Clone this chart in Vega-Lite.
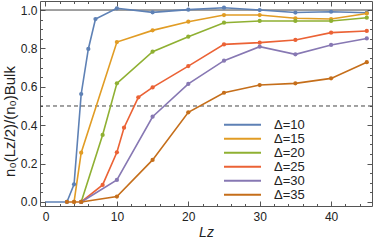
{
  "$schema": "https://vega.github.io/schema/vega-lite/v6.json",
  "width": 332,
  "height": 205,
  "autosize": "none",
  "padding": {"left": 40, "top": 1, "right": 2, "bottom": 35},
  "background": "white",
  "config": {
    "view": {"stroke": "#555", "strokeWidth": 1},
    "font": "Liberation Sans",
    "axis": {"domain": false, "grid": false, "labelFont": "Liberation Sans", "labelFontSize": 12, "labelColor": "#222", "titleFont": "Liberation Sans", "titleFontWeight": "normal", "titleFontSize": 13, "titleColor": "#222", "tickColor": "#555"}
  },
  "datasets": {
    "curves": [
      {"Lz": 0, "v": 0, "d": "Δ=10"},
      {"Lz": 3, "v": 0, "d": "Δ=10"},
      {"Lz": 4, "v": 0.092, "d": "Δ=10"},
      {"Lz": 5, "v": 0.5625, "d": "Δ=10"},
      {"Lz": 6, "v": 0.797, "d": "Δ=10"},
      {"Lz": 7, "v": 0.953, "d": "Δ=10"},
      {"Lz": 10, "v": 1.009, "d": "Δ=10"},
      {"Lz": 15, "v": 0.988, "d": "Δ=10"},
      {"Lz": 20, "v": 1.002, "d": "Δ=10"},
      {"Lz": 25, "v": 1.012, "d": "Δ=10"},
      {"Lz": 30, "v": 1.0, "d": "Δ=10"},
      {"Lz": 35, "v": 0.987, "d": "Δ=10"},
      {"Lz": 40, "v": 0.991, "d": "Δ=10"},
      {"Lz": 45, "v": 0.986, "d": "Δ=10"},
      {"Lz": 4, "v": 0, "d": "Δ=15"},
      {"Lz": 5, "v": 0.257, "d": "Δ=15"},
      {"Lz": 10, "v": 0.833, "d": "Δ=15"},
      {"Lz": 15, "v": 0.894, "d": "Δ=15"},
      {"Lz": 20, "v": 0.939, "d": "Δ=15"},
      {"Lz": 25, "v": 0.974, "d": "Δ=15"},
      {"Lz": 30, "v": 0.974, "d": "Δ=15"},
      {"Lz": 35, "v": 0.957, "d": "Δ=15"},
      {"Lz": 40, "v": 0.953, "d": "Δ=15"},
      {"Lz": 45, "v": 0.982, "d": "Δ=15"},
      {"Lz": 5, "v": 0, "d": "Δ=20"},
      {"Lz": 8, "v": 0.349, "d": "Δ=20"},
      {"Lz": 10, "v": 0.618, "d": "Δ=20"},
      {"Lz": 15, "v": 0.783, "d": "Δ=20"},
      {"Lz": 20, "v": 0.861, "d": "Δ=20"},
      {"Lz": 25, "v": 0.934, "d": "Δ=20"},
      {"Lz": 30, "v": 0.943, "d": "Δ=20"},
      {"Lz": 35, "v": 0.943, "d": "Δ=20"},
      {"Lz": 40, "v": 0.943, "d": "Δ=20"},
      {"Lz": 45, "v": 0.96, "d": "Δ=20"},
      {"Lz": 5, "v": 0, "d": "Δ=25"},
      {"Lz": 8, "v": 0.089, "d": "Δ=25"},
      {"Lz": 10, "v": 0.259, "d": "Δ=25"},
      {"Lz": 11, "v": 0.387, "d": "Δ=25"},
      {"Lz": 13, "v": 0.545, "d": "Δ=25"},
      {"Lz": 15, "v": 0.597, "d": "Δ=25"},
      {"Lz": 20, "v": 0.708, "d": "Δ=25"},
      {"Lz": 25, "v": 0.821, "d": "Δ=25"},
      {"Lz": 30, "v": 0.83, "d": "Δ=25"},
      {"Lz": 35, "v": 0.844, "d": "Δ=25"},
      {"Lz": 40, "v": 0.882, "d": "Δ=25"},
      {"Lz": 45, "v": 0.891, "d": "Δ=25"},
      {"Lz": 5, "v": 0, "d": "Δ=30"},
      {"Lz": 10, "v": 0.115, "d": "Δ=30"},
      {"Lz": 15, "v": 0.444, "d": "Δ=30"},
      {"Lz": 20, "v": 0.615, "d": "Δ=30"},
      {"Lz": 25, "v": 0.736, "d": "Δ=30"},
      {"Lz": 30, "v": 0.809, "d": "Δ=30"},
      {"Lz": 35, "v": 0.769, "d": "Δ=30"},
      {"Lz": 40, "v": 0.818, "d": "Δ=30"},
      {"Lz": 45, "v": 0.852, "d": "Δ=30"},
      {"Lz": 3, "v": 0, "d": "Δ=35"},
      {"Lz": 4, "v": 0, "d": "Δ=35"},
      {"Lz": 5, "v": 0, "d": "Δ=35"},
      {"Lz": 10, "v": 0.028, "d": "Δ=35"},
      {"Lz": 15, "v": 0.219, "d": "Δ=35"},
      {"Lz": 20, "v": 0.467, "d": "Δ=35"},
      {"Lz": 25, "v": 0.569, "d": "Δ=35"},
      {"Lz": 30, "v": 0.609, "d": "Δ=35"},
      {"Lz": 35, "v": 0.618, "d": "Δ=35"},
      {"Lz": 40, "v": 0.644, "d": "Δ=35"},
      {"Lz": 45, "v": 0.728, "d": "Δ=35"}
    ],
    "refs": [
      {"y": 1.0, "kind": "solid"},
      {"y": 0.5, "kind": "dashed"}
    ]
  },
  "layer": [
    {
      "data": {"name": "refs"},
      "transform": [{"filter": "datum.kind === 'solid'"}],
      "mark": {"type": "rule", "color": "#444", "strokeWidth": 1},
      "encoding": {"y": {"field": "y", "type": "quantitative", "scale": {"domain": [-0.021, 1.047], "nice": false, "zero": false}, "axis": null}}
    },
    {
      "data": {"name": "refs"},
      "transform": [{"filter": "datum.kind === 'dashed'"}],
      "mark": {"type": "rule", "color": "#444", "strokeWidth": 1, "strokeDash": [4, 3]},
      "encoding": {"y": {"field": "y", "type": "quantitative", "axis": null}}
    },
    {
      "data": {"name": "curves"},
      "mark": {"type": "line", "strokeWidth": 1.6},
      "encoding": {
        "x": {"field": "Lz", "type": "quantitative", "scale": {"domain": [-0.77, 45.73], "nice": false, "zero": false},
          "axis": {"title": "Lz", "titleFontStyle": "italic", "titleFontSize": 14, "values": [0,2,4,6,8,10,12,14,16,18,20,22,24,26,28,30,32,34,36,38,40,42,44], "labelExpr": "datum.value % 10 === 0 ? datum.label : ''", "tickSize": {"condition": {"test": "datum.value % 10 === 0", "value": -5}, "value": -2.5}, "labelPadding": 10, "titlePadding": 3}},
        "y": {"field": "v", "type": "quantitative",
          "axis": {"title": "n₀(Lz/2)/(n₀)Bulk", "titleFontSize": 15, "titleY": 120, "values": [0,0.05,0.1,0.15,0.2,0.25,0.3,0.35,0.4,0.45,0.5,0.55,0.6,0.65,0.7,0.75,0.8,0.85,0.9,0.95,1.0], "labelExpr": "abs(datum.value*5 - round(datum.value*5)) < 0.001 ? format(datum.value, '.1f') : ''", "tickSize": {"condition": {"test": "abs(datum.value*5 - round(datum.value*5)) < 0.001", "value": -5}, "value": -2.5}, "labelPadding": 8, "titlePadding": 3}},
        "color": {"field": "d", "type": "nominal",
          "scale": {"domain": ["Δ=10","Δ=15","Δ=20","Δ=25","Δ=30","Δ=35"], "range": ["#5E81B5","#E19C24","#8FB032","#EB6235","#8778B3","#C56E1A"]},
          "legend": {"title": null, "orient": "none", "legendX": 183, "legendY": 117, "symbolType": "stroke", "symbolSize": 1369, "symbolStrokeWidth": 2, "labelFontSize": 13, "labelFont": "Liberation Sans", "labelColor": "#222", "rowPadding": 0, "clipHeight": 13.3, "symbolOffset": 0, "labelOffset": 12}}
      }
    },
    {
      "data": {"name": "curves"},
      "transform": [{"filter": "datum.Lz > 0"}],
      "mark": {"type": "point", "filled": true, "size": 18, "opacity": 1},
      "encoding": {
        "x": {"field": "Lz", "type": "quantitative", "axis": {"orient": "top", "title": null, "labels": false, "values": [0,2,4,6,8,10,12,14,16,18,20,22,24,26,28,30,32,34,36,38,40,42,44], "tickSize": {"condition": {"test": "datum.value % 10 === 0", "value": -5}, "value": -2.5}}},
        "y": {"field": "v", "type": "quantitative", "axis": {"orient": "right", "title": null, "labels": false, "values": [0,0.05,0.1,0.15,0.2,0.25,0.3,0.35,0.4,0.45,0.5,0.55,0.6,0.65,0.7,0.75,0.8,0.85,0.9,0.95,1.0], "tickSize": {"condition": {"test": "abs(datum.value*5 - round(datum.value*5)) < 0.001", "value": -5}, "value": -2.5}}},
        "color": {"field": "d", "type": "nominal", "legend": null}
      }
    }
  ],
  "resolve": {"axis": {"x": "independent", "y": "independent"}}
}
